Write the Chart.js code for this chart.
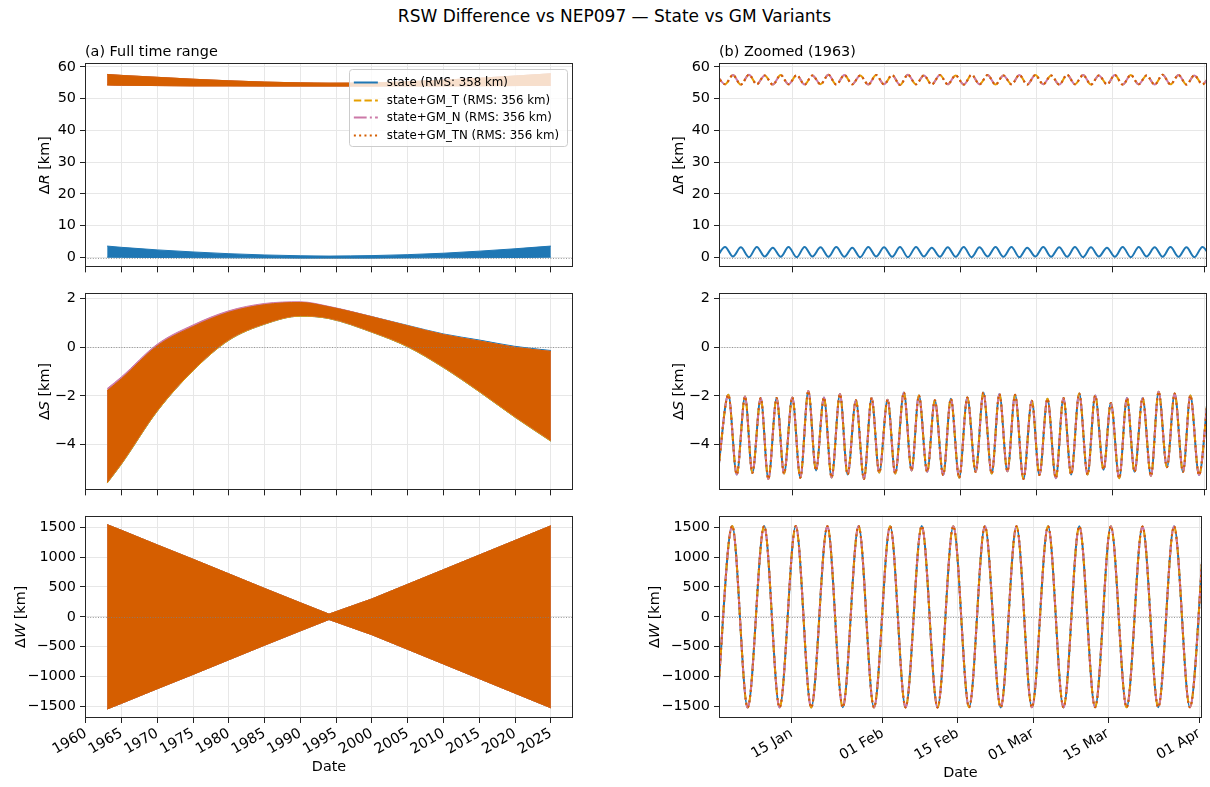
<!DOCTYPE html>
<html>
<head>
<meta charset="utf-8">
<title>RSW Difference vs NEP097 — State vs GM Variants</title>
<script src="https://cdn.jsdelivr.net/npm/chart.js@4.4.1/dist/chart.umd.min.js"></script>
<style>
  html, body { margin: 0; padding: 0; background: #fff; }
  #fig { position: relative; width: 1210px; height: 787px; overflow: hidden; }
  #fig canvas { position: absolute; }
  #suptitle { position: absolute; left: 0; top: 6px; width: 1229px; text-align: center;
    font: 17px "DejaVu Sans", sans-serif; line-height: 20px; color: #000; white-space: nowrap; }
</style>
</head>
<body>
<div id="fig">
  <div id="suptitle">RSW Difference vs NEP097 — State vs GM Variants</div>
  <canvas id="rFull" width="600" height="250" style="left:0;top:30px"></canvas>
  <canvas id="rZoom" width="610" height="250" style="left:600px;top:30px"></canvas>
  <canvas id="sFull" width="600" height="223" style="left:0;top:280px"></canvas>
  <canvas id="sZoom" width="610" height="223" style="left:600px;top:280px"></canvas>
  <canvas id="wFull" width="600" height="284" style="left:0;top:503px"></canvas>
  <canvas id="wZoom" width="610" height="284" style="left:600px;top:503px"></canvas>
</div>
<script>
// ---- series ---------------------------------------------------------------
const seriesNames = ['state', 'state+GM_T', 'state+GM_N', 'state+GM_TN'];
const rmsKm = [358, 356, 356, 356];

// ---- tick labels ----------------------------------------------------------
const yearTicks = [1960, 1965, 1970, 1975, 1980, 1985, 1990, 1995, 2000, 2005, 2010, 2015, 2020, 2025];
const dayTicks = [14, 31, 45, 59, 73, 90];            // days after 1963-01-01
const dayTickLabels = ['15 Jan', '01 Feb', '15 Feb', '01 Mar', '15 Mar', '01 Apr'];
const rTicks = [0, 10, 20, 30, 40, 50, 60];
const sTicks = [-4, -2, 0, 2];
const wTicks = [-1500, -1000, -500, 0, 500, 1000, 1500];

// ---- full range: upper / lower envelope of the fast oscillation [km] -------
const envYears = [1963, 1965, 1970, 1975, 1980, 1985, 1990, 1994, 2000, 2005, 2010, 2015, 2020, 2025];

const rStateHi = [3.6, 3.2, 2.4, 1.75, 1.2, 0.8, 0.55, 0.45, 0.6, 0.9, 1.35, 2.0, 2.75, 3.6];
const rStateLo = [0.1, 0.05, 0.0, -0.05, -0.1, -0.15, -0.2, -0.2, -0.2, -0.15, -0.1, -0.05, 0.0, 0.1];
const rGmHi = [57.6, 57.3, 56.7, 56.1, 55.6, 55.2, 54.95, 54.85, 54.95, 55.3, 55.8, 56.4, 57.1, 57.8];
const rGmLo = [54.3, 54.2, 54.1, 54.0, 54.0, 53.95, 53.95, 53.95, 53.95, 54.0, 54.0, 54.05, 54.1, 54.2];

const sHi = [-1.79, -1.3, 0.05, 0.84, 1.43, 1.74, 1.83, 1.65, 1.24, 0.87, 0.51, 0.25, -0.01, -0.18];
const sLo = [-5.54, -4.75, -2.58, -0.93, 0.32, 0.97, 1.30, 1.20, 0.64, 0.05, -0.80, -1.79, -2.84, -3.82];
const sStateHi = [-1.82, -1.34, 0.02, 0.82, 1.41, 1.72, 1.82, 1.65, 1.25, 0.89, 0.54, 0.29, 0.03, -0.14];
const sStateLo = [-5.58, -4.80, -2.63, -0.97, 0.28, 0.94, 1.27, 1.17, 0.61, 0.01, -0.84, -1.83, -2.88, -3.86];
const sGmNHi = [-1.70, -1.22, 0.12, 0.91, 1.49, 1.79, 1.86, 1.67, 1.25, 0.87, 0.51, 0.25, -0.01, -0.18];

const wHi = [1545, 1450, 1205, 965, 720, 475, 235, 45, 300, 545, 790, 1035, 1280, 1525];
const wLo = [-1545, -1450, -1205, -965, -720, -475, -235, -45, -300, -545, -790, -1035, -1280, -1525];

// ---- zoom on early 1963: turning points of each curve ----------------------
const rZoomDays = [0.1, 1.6, 3.05, 4.5, 6.0, 7.45, 8.9, 10.4, 11.85, 13.3,
  14.8, 16.25, 17.7, 19.2, 20.65, 22.1, 23.6, 25.05, 26.5, 28.0,
  29.45, 30.9, 32.4, 33.85, 35.3, 36.8, 38.25, 39.7, 41.2, 42.65,
  44.1, 45.6, 47.05, 48.5, 50.0, 51.45, 52.9, 54.4, 55.85, 57.3,
  58.8, 60.25, 61.7, 63.2, 64.65, 66.1, 67.6, 69.05, 70.5, 72.0,
  73.45, 74.9, 76.4, 77.85, 79.3, 80.8, 82.25, 83.7, 85.2, 86.65,
  88.1, 89.6, 91.05];
const rZoomState = [0.2, 3.3, 0.3, 3.2, 0.1, 3.3, 0.3, 3.1, 0.2, 3.3,
  0.1, 3.3, 0.3, 3.2, 0.2, 3.3, 0.2, 3.1, 0.1, 3.3,
  0.3, 3.2, 0.2, 3.3, 0.1, 3.3, 0.3, 3.1, 0.2, 3.2,
  0.2, 3.3, 0.1, 3.2, 0.3, 3.3, 0.2, 3.3, 0.1, 3.1,
  0.3, 3.3, 0.2, 3.2, 0.2, 3.3, 0.1, 3.2, 0.3, 3.1,
  0.2, 3.3, 0.1, 3.3, 0.3, 3.2, 0.2, 3.3, 0.2, 3.2,
  0.1, 3.3, 0.2];
const rZoomGm = [57.3, 54.5, 57.4, 54.4, 57.5, 54.5, 57.3, 54.4, 57.4, 54.5,
  57.4, 54.4, 57.3, 54.5, 57.5, 54.4, 57.4, 54.5, 57.3, 54.4,
  57.4, 54.5, 57.4, 54.3, 57.5, 54.5, 57.3, 54.4, 57.4, 54.5,
  57.3, 54.4, 57.5, 54.5, 57.4, 54.4, 57.3, 54.5, 57.4, 54.4,
  57.4, 54.5, 57.3, 54.4, 57.5, 54.5, 57.4, 54.4, 57.3, 54.5,
  57.4, 54.4, 57.4, 54.5, 57.3, 54.4, 57.5, 54.5, 57.4, 54.4,
  57.3, 54.5, 57.4];

const sZoomDays = [0.3, 2.21, 3.75, 5.28, 6.63, 8.17, 9.58, 11.11, 12.47, 14.0,
  15.47, 16.95, 18.36, 19.83, 21.24, 22.78, 24.19, 25.72, 27.2, 28.61,
  30.02, 31.56, 32.97, 34.56, 35.98, 37.33, 38.86, 40.27, 41.81, 43.22,
  44.76, 46.26, 47.8, 49.22, 50.75, 52.17, 53.65, 55.06, 56.6, 58.14,
  59.55, 61.03, 62.57, 63.98, 65.4, 66.88, 68.42, 69.83, 71.37, 72.72,
  74.26, 75.68, 77.09, 78.57, 80.11, 81.52, 83.06, 84.48, 86.02, 87.37,
  88.97, 90.6];
const sZoomVals = [-5.1, -1.96, -5.23, -2.03, -5.16, -2.09, -5.41, -2.09, -5.19, -2.07,
  -5.36, -1.80, -5.06, -2.07, -5.35, -1.93, -5.23, -2.18, -5.41, -2.09,
  -5.15, -2.16, -5.19, -1.86, -5.06, -1.99, -5.12, -2.18, -5.25, -2.12,
  -5.36, -2.07, -5.12, -1.86, -5.19, -1.93, -5.10, -1.96, -5.41, -2.20,
  -5.25, -2.12, -5.38, -2.09, -5.23, -1.90, -5.23, -1.99, -5.03, -2.29,
  -5.38, -2.09, -5.12, -2.09, -5.28, -1.83, -4.93, -1.90, -5.12, -1.99,
  -5.25, -2.05];

const wZoomDays = [0.1, 2.94, 5.82, 8.90, 11.77, 14.79, 17.66, 20.68, 23.55, 26.49,
  29.36, 32.38, 35.25, 38.26, 41.21, 44.15, 47.09, 50.04, 52.98, 55.92,
  58.80, 61.81, 64.68, 67.63, 70.57, 73.51, 76.45, 79.40, 82.34, 85.29,
  88.23, 90.95];
const wZoomVals = [-1528, 1522, -1520, 1521, -1518, 1522, -1520, 1520, -1517, 1521,
  -1519, 1520, -1518, 1521, -1520, 1519, -1517, 1520, -1519, 1518,
  -1516, 1519, -1518, 1517, -1516, 1518, -1517, 1516, -1515, 1517,
  -1516, 1515];

// ---- styling -------------------------------------------------------------
const colors = ['#1f77b4', '#e69f00', '#cc79a7', '#d55e00'];
const dashes = [[], [7.4, 3.2], [12.8, 3.2, 2, 3.2], [2, 3.3]];
const FONT = '"DejaVu Sans"';
const FS = 14.4;
const tickFont = { family: FONT, size: FS };
const gridOpts = { color: '#e7e7e7', lineWidth: 1, drawTicks: true, tickLength: 5, tickColor: '#222', tickWidth: 1 };

Chart.defaults.font.family = FONT;
Chart.defaults.color = '#000';

const pts = (xs, ys) => xs.map((x, i) => ({ x: x, y: ys[i] }));
const minus = v => (v < 0 ? '\u2212' + Math.abs(v) : String(v));

// filled band per series (hi fills down to lo)
function bands(pairs, smooth) {
  const out = [];
  pairs.forEach(([hi, lo], k) => {
    const base = {
      borderColor: colors[k], borderWidth: 1, pointRadius: 0, order: 4 - k,
      tension: 0, cubicInterpolationMode: smooth ? 'monotone' : 'default'
    };
    out.push(Object.assign({ data: pts(envYears, hi), fill: '+1', backgroundColor: colors[k] }, base));
    out.push(Object.assign({ data: pts(envYears, lo), fill: false }, base));
  });
  return out;
}

function lines(days, series) {
  return series.map((vals, k) => ({
    data: pts(days, vals), borderColor: colors[k], borderWidth: 2, borderDash: dashes[k],
    pointRadius: 0, fill: false, cubicInterpolationMode: 'monotone', order: 4 - k
  }));
}

// frame, zero line, panel title, y label, legend
const decor = {
  id: 'decor',
  afterDatasetsDraw(chart) {
    const { ctx, chartArea: a, scales: { y } } = chart;
    const y0 = Math.round(y.getPixelForValue(0)) + 0.5;
    ctx.save();
    ctx.strokeStyle = '#808080';
    ctx.lineWidth = 0.8;
    ctx.setLineDash([1, 1.6]);
    ctx.beginPath();
    ctx.moveTo(a.left, y0);
    ctx.lineTo(a.right, y0);
    ctx.stroke();
    ctx.restore();
  },
  afterDraw(chart, args, o) {
    const { ctx, chartArea: a } = chart;
    ctx.save();
    ctx.setLineDash([]);
    ctx.strokeStyle = '#262626';
    ctx.lineWidth = 1;
    const L = Math.round(a.left), T = Math.round(a.top);
    ctx.strokeRect(L + 0.5, T + 0.5, Math.round(a.right) - L - 1, Math.round(a.bottom) - T - 1);

    ctx.fillStyle = '#000';
    if (o.title) {
      ctx.font = FS + 'px ' + FONT;
      ctx.textAlign = 'left';
      ctx.textBaseline = 'alphabetic';
      ctx.fillText(o.title, a.left, a.top - 7);
    }

    // y label: upright delta, italic component letter
    const parts = [['\u0394', FS + 'px ' + FONT], [o.yVar, 'italic ' + FS + 'px ' + FONT], [' [km]', FS + 'px ' + FONT]];
    ctx.translate(a.left - o.labelGap, (a.top + a.bottom) / 2);
    ctx.rotate(-Math.PI / 2);
    ctx.textBaseline = 'middle';
    ctx.textAlign = 'left';
    let total = 0;
    parts.forEach(p => { ctx.font = p[1]; total += ctx.measureText(p[0]).width; });
    let x = -total / 2;
    parts.forEach(p => { ctx.font = p[1]; ctx.fillText(p[0], x, 0); x += ctx.measureText(p[0]).width; });
    ctx.restore();

    if (o.legend) drawLegend(ctx, a);
  }
};

function drawLegend(ctx, a) {
  const fs = 11.8, rowH = 17.7, pad = 5, handle = 24, gap = 9;
  const texts = seriesNames.map((n, k) => n + ' (RMS: ' + rmsKm[k] + ' km)');
  ctx.save();
  ctx.font = fs + 'px ' + FONT;
  const maxW = Math.max(...texts.map(t => ctx.measureText(t).width));
  const right = a.right - 6, top = a.top + 6;
  const w = pad + handle + gap + maxW + pad + 3, h = 77;
  const left = right - w;
  ctx.fillStyle = 'rgba(255,255,255,0.8)';
  ctx.strokeStyle = '#cccccc';
  ctx.lineWidth = 1;
  ctx.beginPath();
  ctx.roundRect(Math.round(left) + 0.5, Math.round(top) + 0.5, Math.round(w), h, 3);
  ctx.fill();
  ctx.stroke();
  texts.forEach((t, k) => {
    const cy = Math.round(top + 13 + k * rowH) + 0.5;
    ctx.strokeStyle = colors[k];
    ctx.lineWidth = 2;
    ctx.setLineDash(dashes[k]);
    ctx.beginPath();
    ctx.moveTo(left + pad, cy);
    ctx.lineTo(left + pad + handle, cy);
    ctx.stroke();
    ctx.setLineDash([]);
    ctx.fillStyle = '#000';
    ctx.textBaseline = 'middle';
    ctx.textAlign = 'left';
    ctx.fillText(t, left + pad + handle + gap, cy);
  });
  ctx.restore();
}

function panel(id, o) {
  return new Chart(document.getElementById(id), {
    type: 'line',
    data: { datasets: o.datasets },
    options: {
      responsive: false,
      animation: false,
      devicePixelRatio: 1,
      events: [],
      layout: { padding: o.padding },
      plugins: {
        legend: { display: false },
        tooltip: { enabled: false },
        decor: { title: o.title, yVar: o.yVar, legend: !!o.legend, labelGap: o.labelGap }
      },
      scales: {
        x: {
          type: 'linear', min: o.xMin, max: o.xMax,
          afterBuildTicks: s => { s.ticks = o.xTicks.map(v => ({ value: v })); },
          afterFit: s => { s.height = o.xHeight; },
          grid: gridOpts,
          border: { display: false },
          ticks: {
            display: !!o.showDate, autoSkip: false, minRotation: 30, maxRotation: 30,
            padding: 2, color: '#000', font: tickFont, callback: o.xFormat
          },
          title: { display: !!o.showDate, text: 'Date', color: '#000', font: tickFont, padding: 0 }
        },
        y: {
          type: 'linear', min: o.yMin, max: o.yMax,
          afterBuildTicks: s => { s.ticks = o.yTicks.map(v => ({ value: v })); },
          afterFit: s => { s.width = o.yWidth; },
          grid: gridOpts,
          border: { display: false },
          ticks: { color: '#000', font: tickFont, padding: 4, callback: v => minus(v) }
        }
      }
    },
    plugins: [decor]
  });
}

const fullX = { xMin: 1959.9, xMax: 2028.1, xTicks: yearTicks, xFormat: v => String(v), yWidth: 85 };
const zoomX = { xMin: 0.48, xMax: 90.44, xTicks: dayTicks, xFormat: v => dayTickLabels[dayTicks.indexOf(v)], yWidth: 119 };
const rowR = { yMin: -3.1, yMax: 61.2, yTicks: rTicks, yVar: 'R', xHeight: 9, labelGap: 39.5 };
const rowS = { yMin: -5.88, yMax: 2.235, yTicks: sTicks, yVar: 'S', xHeight: 9, labelGap: 39.5 };
const rowW = { yMin: -1696, yMax: 1696, yTicks: wTicks, yVar: 'W', showDate: true, labelGap: 64 };

panel('rFull', Object.assign({}, fullX, rowR, {
  title: '(a) Full time range', legend: true,
  padding: { left: 0, top: 33, right: 27, bottom: 0 },
  datasets: bands([[rStateHi, rStateLo], [rGmHi, rGmLo], [rGmHi, rGmLo], [rGmHi, rGmLo]], true)
}));
panel('rZoom', Object.assign({}, zoomX, rowR, {
  title: '(b) Zoomed (1963)',
  padding: { left: 0, top: 33, right: 3, bottom: 0 },
  datasets: lines(rZoomDays, [rZoomState, rZoomGm, rZoomGm, rZoomGm])
}));
panel('sFull', Object.assign({}, fullX, rowS, {
  padding: { left: 0, top: 7, right: 27, bottom: 0 },
  datasets: bands([[sStateHi, sStateLo], [sHi, sStateLo], [sGmNHi, sLo], [sHi, sLo]], true)
}));
panel('sZoom', Object.assign({}, zoomX, rowS, {
  padding: { left: 0, top: 7, right: 3, bottom: 0 },
  datasets: lines(sZoomDays, [sZoomVals, sZoomVals, sZoomVals, sZoomVals])
}));
panel('wFull', Object.assign({}, fullX, rowW, {
  xHeight: 58,
  padding: { left: 0, top: 7, right: 27, bottom: 11 },
  datasets: bands([[wHi, wLo], [wHi, wLo], [wHi, wLo], [wHi, wLo]], false)
}));
panel('wZoom', Object.assign({}, zoomX, rowW, {
  xHeight: 64,
  padding: { left: 0, top: 7, right: 3, bottom: 5 },
  datasets: lines(wZoomDays, [wZoomVals, wZoomVals, wZoomVals, wZoomVals])
}));
</script>
</body>
</html>
